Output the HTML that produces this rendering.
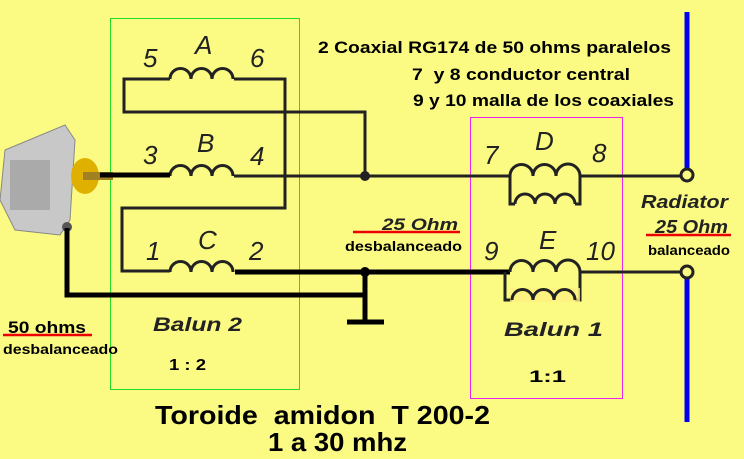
<!DOCTYPE html>
<html><head><meta charset="utf-8"><style>
html,body{margin:0;padding:0;background:#fbfb84;}
svg{display:block;}
text{font-family:"Liberation Sans",sans-serif;white-space:pre;}
</style></head><body>
<svg width="744" height="459" viewBox="0 0 744 459" xmlns="http://www.w3.org/2000/svg">
<rect width="744" height="459" fill="#fbfb84"/>
<rect x="110.5" y="18.5" width="189" height="371" fill="none" stroke="#22dd22" stroke-width="1"/>
<rect x="470.5" y="117.5" width="152" height="281" fill="none" stroke="#ee22ee" stroke-width="1"/>
<g>
<polygon points="5,150 65,125 75,140 70,220 60,235 15,230 0,200" fill="#c8c8c8" stroke="#888" stroke-width="1"/>
<rect x="10" y="160" width="40" height="50" fill="#aaa"/>
<ellipse cx="85" cy="176" rx="14" ry="18" fill="#e0b000"/>
<rect x="83" y="172" width="30" height="8" fill="#a08020"/>
<circle cx="67" cy="227" r="5" fill="#555"/>
</g>
<g fill="none" stroke="#222" stroke-width="3">
<path d="M170,79 L124,79 L124,112 L365,112 L365,176"/>
<path d="M234,79 L285,79 L285,208 L122,208 L122,271 L170,271"/>
<path d="M234,176 L510,176"/>
<path d="M580,176 L680,176"/>
<path d="M235,272 L510,272" stroke-width="5" stroke="#000"/>
<path d="M580,272 L680,272"/>
<path d="M510,176 L510,204 L515,204 M580,176 L580,204 L575,204"/>
<path d="M505,272 L505,300 L512,300 M580,272 L580,300 L575,300"/>
<path d="M170,79 a10,10 0 0 1 21,0 a10,10 0 0 1 21,0 a10,10 0 0 1 21,0"/>
<path d="M170,176 a10,10 0 0 1 21,0 a10,10 0 0 1 21,0 a10,10 0 0 1 21,0"/>
<path d="M170,272 a10,10 0 0 1 21,0 a10,10 0 0 1 21,0 a10,10 0 0 1 21,0"/>
<path d="M510,176 a11,11 0 0 1 23,0 a11,11 0 0 1 23,0 a11,11 0 0 1 24,0"/>
<path d="M515,204 a10,10 0 0 1 20,0 a10,10 0 0 1 20,0 a10,10 0 0 1 20,0"/>
<path d="M510,272 a11,11 0 0 1 23,0 a11,11 0 0 1 23,0 a11,11 0 0 1 24,0"/>
</g>
<rect x="510" y="288" width="70" height="14" fill="#fff080" opacity="0.8"/>
<path d="M512,300 a10,10 0 0 1 21,0 a10,10 0 0 1 21,0 a10,10 0 0 1 21,0" fill="none" stroke="#222" stroke-width="3"/>
<path d="M100,175 L170,175" stroke="#000" stroke-width="5"/>
<path d="M67,228 L67,295 L365,295" fill="none" stroke="#000" stroke-width="5"/>
<path d="M365,272 L365,322" stroke="#000" stroke-width="5"/>
<path d="M347,322 L384,322" stroke="#000" stroke-width="5"/>
<circle cx="365" cy="176" r="5" fill="#222"/>
<circle cx="365" cy="272" r="5" fill="#000"/>
<path d="M687,12 L687,170 M687,278 L687,422" stroke="#0000ee" stroke-width="5"/>
<circle cx="687" cy="175" r="6" fill="#fbfb84" stroke="#222" stroke-width="3"/>
<circle cx="687" cy="272" r="6" fill="#fbfb84" stroke="#222" stroke-width="3"/>
<g font-style="italic" font-size="26" fill="#222">
<text x="143" y="67">5</text><text x="195" y="54">A</text><text x="250" y="67">6</text>
<text x="143" y="164">3</text><text x="197" y="152">B</text><text x="250" y="165">4</text>
<text x="146" y="260">1</text><text x="198" y="249">C</text><text x="249" y="260">2</text>
<text x="484" y="164">7</text><text x="535" y="150">D</text><text x="592" y="162">8</text>
<text x="484" y="260">9</text><text x="539" y="249">E</text><text x="586" y="260">10</text>
</g>
<g font-weight="bold" font-style="italic" fill="#222">
<text x="153" y="331" font-size="19" textLength="89" lengthAdjust="spacingAndGlyphs">Balun 2</text>
<text x="504" y="336" font-size="19" textLength="99" lengthAdjust="spacingAndGlyphs">Balun 1</text>
<text x="641" y="208" font-size="18" textLength="87" lengthAdjust="spacingAndGlyphs">Radiator</text>
<text x="655" y="233" font-size="18" textLength="73" lengthAdjust="spacingAndGlyphs">25 Ohm</text>
<text x="382" y="230" font-size="17" textLength="76" lengthAdjust="spacingAndGlyphs">25 Ohm</text>
</g>
<g font-weight="bold" fill="#000">
<text x="318" y="53" font-size="17" textLength="353" lengthAdjust="spacingAndGlyphs">2 Coaxial RG174 de 50 ohms paralelos</text>
<text x="412" y="80" font-size="17" textLength="218" lengthAdjust="spacingAndGlyphs">7  y 8 conductor central</text>
<text x="413" y="106" font-size="17" textLength="261" lengthAdjust="spacingAndGlyphs">9 y 10 malla de los coaxiales</text>
<text x="8" y="333" font-size="17" textLength="78" lengthAdjust="spacingAndGlyphs">50 ohms</text>
<text x="3" y="354" font-size="14" textLength="115" lengthAdjust="spacingAndGlyphs">desbalanceado</text>
<text x="345" y="251" font-size="14" textLength="117" lengthAdjust="spacingAndGlyphs">desbalanceado</text>
<text x="648" y="255" font-size="14" textLength="82" lengthAdjust="spacingAndGlyphs">balanceado</text>
<text x="169" y="370" font-size="16" textLength="37" lengthAdjust="spacingAndGlyphs">1 : 2</text>
<text x="529" y="382" font-size="17" textLength="37" lengthAdjust="spacingAndGlyphs">1:1</text>
<text x="155" y="424" font-size="26" textLength="335" lengthAdjust="spacingAndGlyphs">Toroide  amidon  T 200-2</text>
<text x="268" y="451" font-size="26" textLength="139" lengthAdjust="spacingAndGlyphs">1 a 30 mhz</text>
</g>
<g stroke="#ee0000" stroke-width="2.5">
<path d="M3,335 L92,335"/>
<path d="M353,232 L460,232"/>
<path d="M646,235 L731,235"/>
</g>
</svg>
</body></html>
